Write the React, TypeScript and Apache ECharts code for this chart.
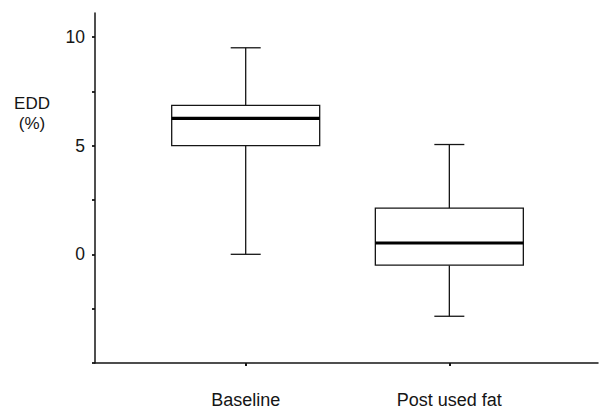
import React, { useEffect, useRef } from "react";
import * as echarts from "echarts";

const categories = ["Baseline", "Post used fat"];
const mins = [0, -2.85];
const q1s = [5.0, -0.5];
const medians = [6.25, 0.52];
const q3s = [6.85, 2.12];
const maxs = [9.5, 5.05];
const yTickValues = [-5, -2.5, 0, 2.5, 5, 7.5, 10];
const yLabelValues = [0, 5, 10];

const FONT = "'Liberation Sans', Arial, Helvetica, sans-serif";
const INK = "#151515";

export default function App() {
  const ref = useRef<HTMLDivElement>(null);
  useEffect(() => {
    document.body.style.margin = "0";
    if (!ref.current) return;
    const chart = echarts.init(ref.current, null, { renderer: "svg" });
    const data = categories.map((_, i) => [i, mins[i], q1s[i], medians[i], q3s[i], maxs[i]]);
    const BOX_W = 148;
    const CAP_W = 30;
    const stroke = { stroke: INK, lineWidth: 1.3, fill: "none" };
    chart.setOption({
      animation: false,
      backgroundColor: "#fff",
      grid: { left: 95, right: 6, top: 13, bottom: 46, containLabel: false, outerBoundsMode: "none" },
      xAxis: {
        type: "value",
        min: -0.74,
        max: 1.73,
        splitLine: { show: false },
        axisLine: { show: true, onZero: false, lineStyle: { color: INK, width: 1.5 } },
        axisTick: { show: true, customValues: [0, 1], length: 3, lineStyle: { color: INK, width: 2 } },
        axisLabel: {
          show: true,
          customValues: [0, 1],
          formatter: (v: number) => categories[Math.round(v)] ?? "",
          fontSize: 18,
          fontFamily: FONT,
          color: INK,
          margin: 28,
        },
      },
      yAxis: {
        type: "value",
        min: -5,
        max: 11.1,
        splitLine: { show: false },
        axisLine: { show: true, onZero: false, lineStyle: { color: INK, width: 1.5 } },
        axisTick: { show: true, customValues: yTickValues, length: 3, lineStyle: { color: INK, width: 1.8 } },
        axisLabel: {
          show: true,
          customValues: yLabelValues,
          fontSize: 17.5,
          fontFamily: FONT,
          color: INK,
          margin: 10,
        },
      },
      graphic: [
        {
          type: "text",
          x: 32,
          y: 113,
          style: {
            text: "EDD\n(%)",
            fontSize: 17,
            fontFamily: FONT,
            fill: INK,
            align: "center",
            verticalAlign: "middle",
            lineHeight: 20,
          },
        },
      ],
      series: [
        {
          type: "custom",
          data,
          renderItem: (_params: any, api: any) => {
            const x = api.value(0);
            const pMin = api.coord([x, api.value(1)]);
            const pQ1 = api.coord([x, api.value(2)]);
            const pMed = api.coord([x, api.value(3)]);
            const pQ3 = api.coord([x, api.value(4)]);
            const pMax = api.coord([x, api.value(5)]);
            const cx = pMed[0];
            const hw = BOX_W / 2;
            const cw = CAP_W / 2;
            return {
              type: "group",
              children: [
                { type: "line", shape: { x1: cx, y1: pMax[1], x2: cx, y2: pQ3[1] }, style: stroke },
                { type: "line", shape: { x1: cx, y1: pQ1[1], x2: cx, y2: pMin[1] }, style: stroke },
                { type: "line", shape: { x1: cx - cw, y1: pMax[1], x2: cx + cw, y2: pMax[1] }, style: stroke },
                { type: "line", shape: { x1: cx - cw, y1: pMin[1], x2: cx + cw, y2: pMin[1] }, style: stroke },
                {
                  type: "rect",
                  shape: { x: cx - hw, y: pQ3[1], width: hw * 2, height: pQ1[1] - pQ3[1] },
                  style: { stroke: INK, lineWidth: 1.3, fill: "#fff" },
                },
                {
                  type: "line",
                  shape: { x1: cx - hw, y1: pMed[1], x2: cx + hw, y2: pMed[1] },
                  style: { stroke: "#000", lineWidth: 3.2 },
                },
              ],
            };
          },
        },
      ],
    });
    return () => chart.dispose();
  }, []);
  return <div ref={ref} style={{ width: 604, height: 409 }} />;
}
